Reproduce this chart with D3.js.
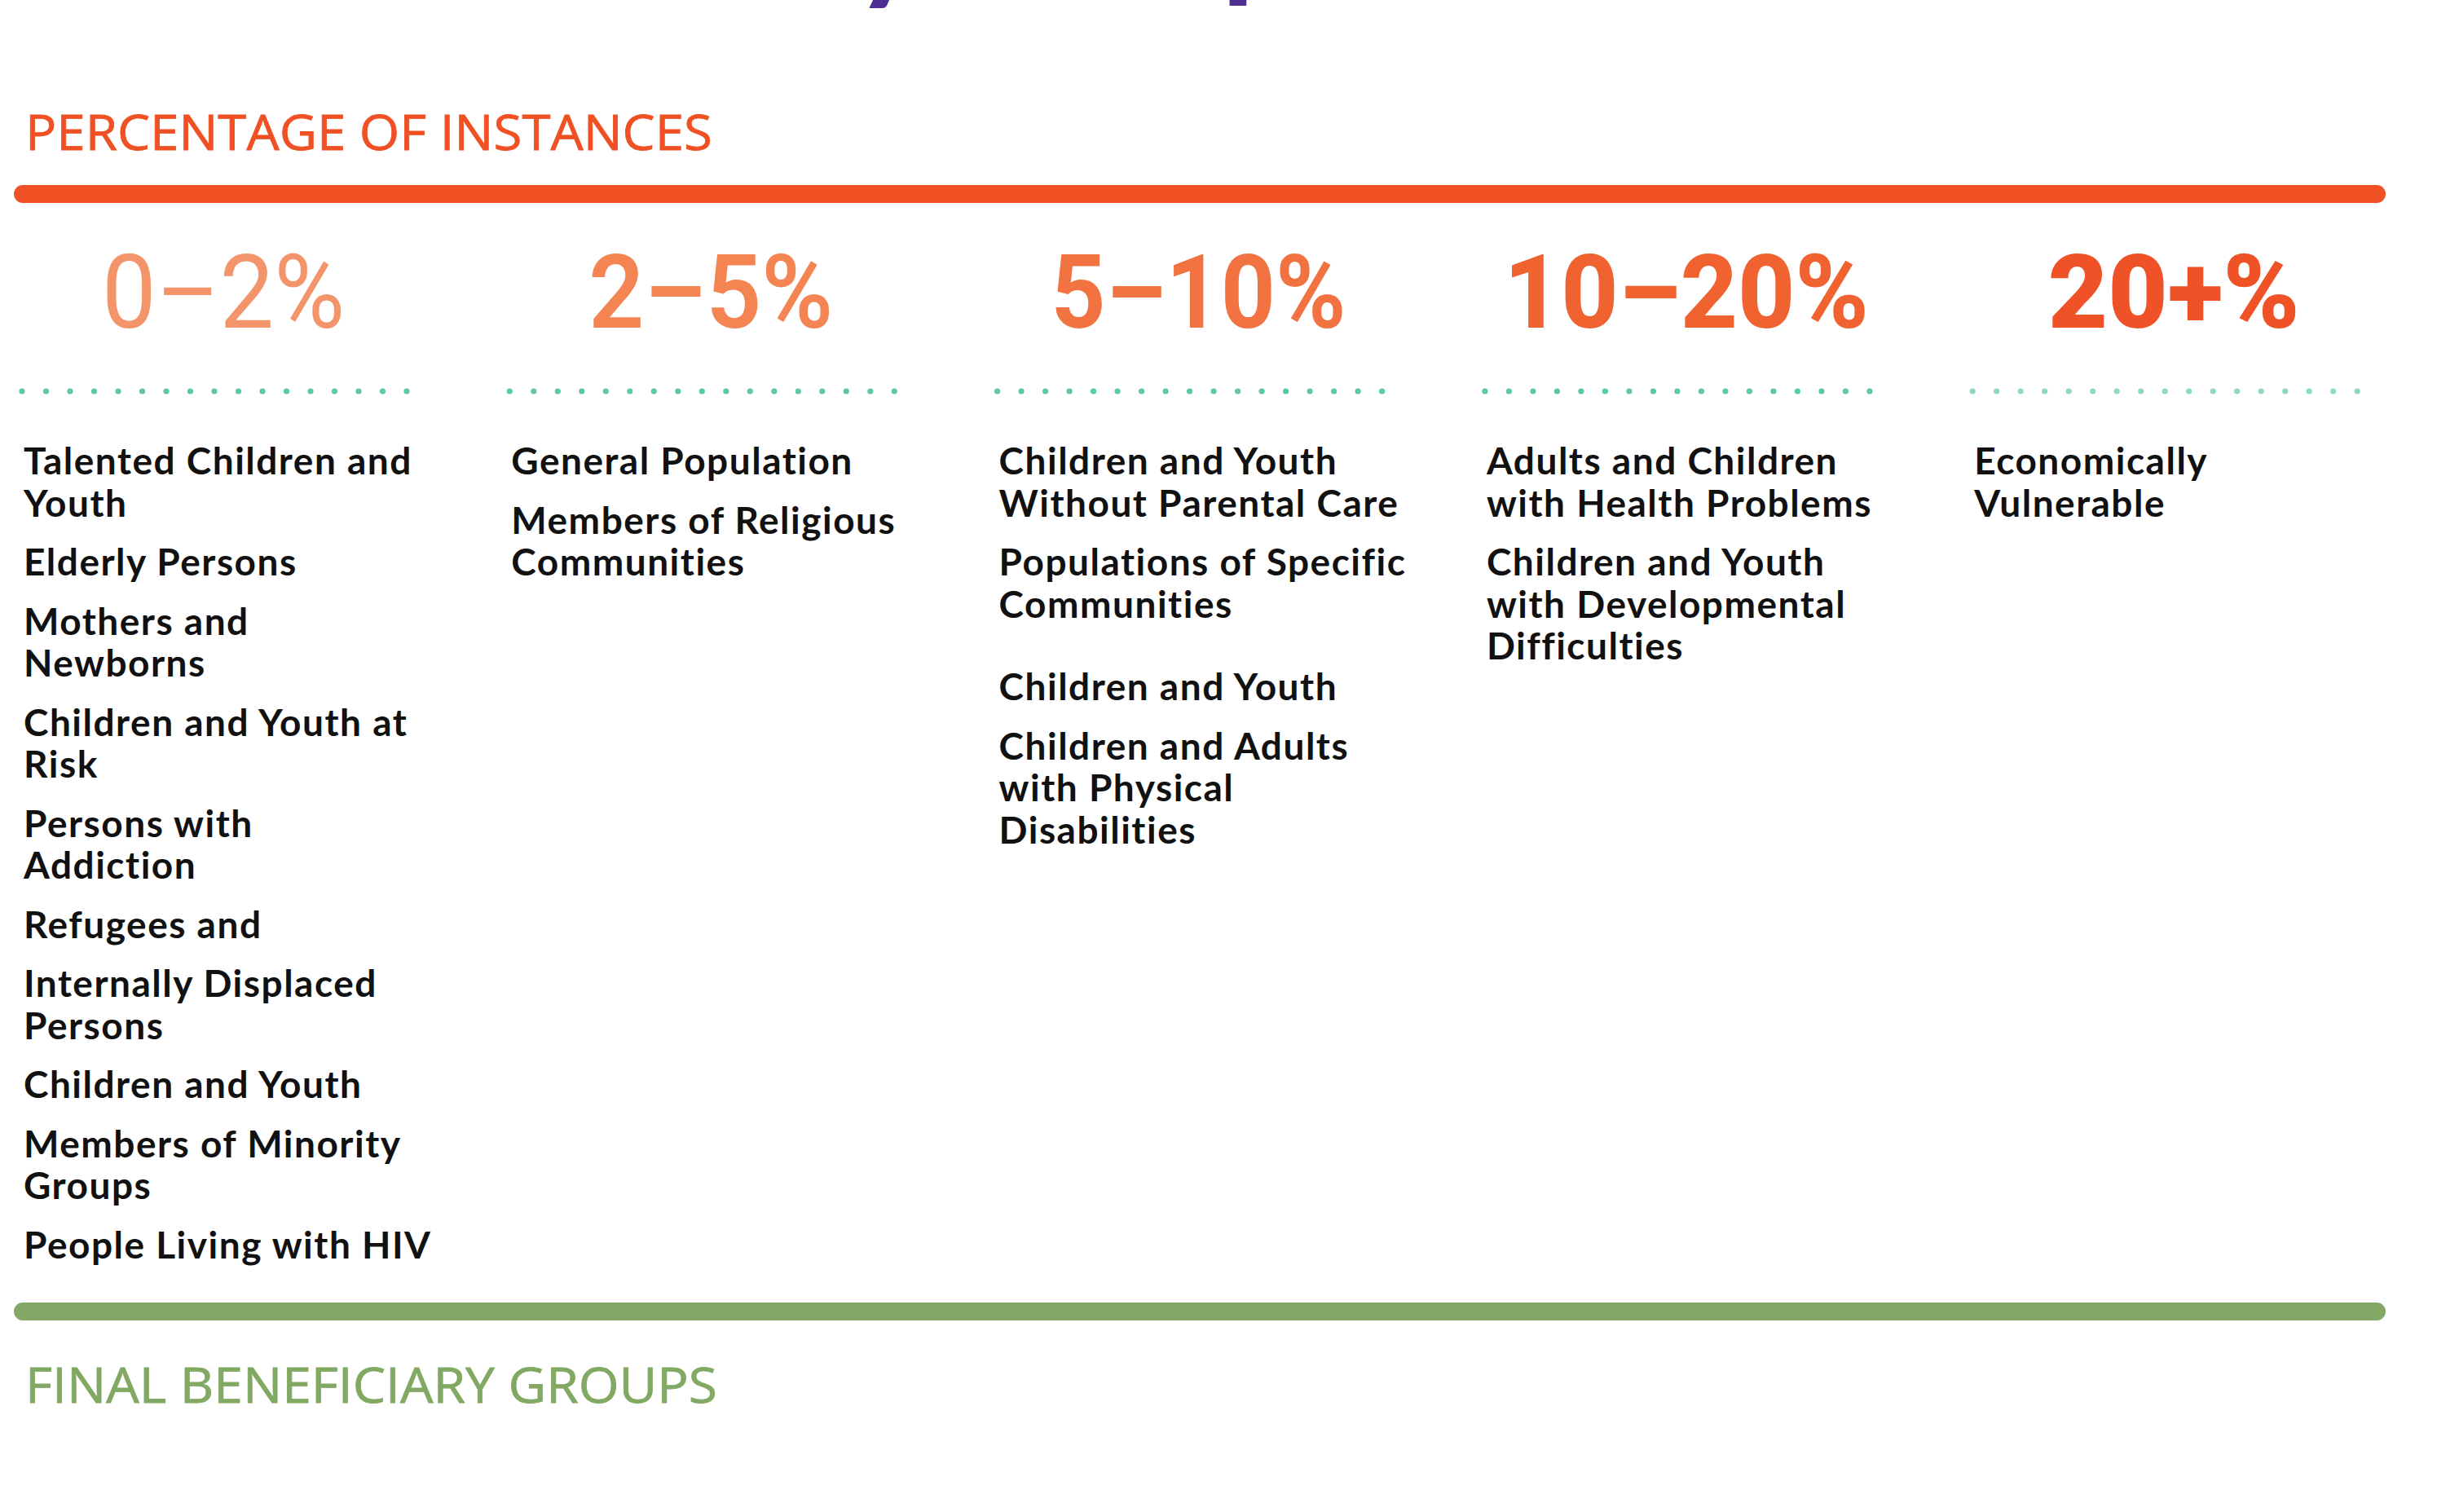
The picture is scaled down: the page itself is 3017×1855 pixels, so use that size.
<!DOCTYPE html>
<html>
<head>
<meta charset="utf-8">
<script src="https://cdn.jsdelivr.net/npm/d3@7"></script>
<style>
  html, body { margin: 0; padding: 0; background: #fff; }
  svg { display: block; }
</style>
</head>
<body>
<div class="chart"></div>
<script>
// percentage bands (column headers)
var ranges = ["0–2%", "2–5%", "5–10%", "10–20%", "20+%"];
var rangeColors = ["#f4946a", "#f48452", "#f27242", "#f06331", "#ef5226"];
var rangeWeights = [400, 600, 700, 800, 900];
var rangeWidths = [298, 300, 362, 448, 309];

// beneficiary groups in each band, one array per line of text
var groups0to2 = [
  ["Talented Children and", "Youth"],
  ["Elderly Persons"],
  ["Mothers and", "Newborns"],
  ["Children and Youth at", "Risk"],
  ["Persons with", "Addiction"],
  ["Refugees and"],
  ["Internally Displaced", "Persons"],
  ["Children and Youth"],
  ["Members of Minority", "Groups"],
  ["People Living with HIV"]
];
var groups2to5 = [
  ["General Population"],
  ["Members of Religious", "Communities"]
];
var groups5to10 = [
  ["Children and Youth", "Without Parental Care"],
  ["Populations of Specific", "Communities"],
  null, // blank spacer in the original
  ["Children and Youth"],
  ["Children and Adults", "with Physical", "Disabilities"]
];
var groups10to20 = [
  ["Adults and Children", "with Health Problems"],
  ["Children and Youth", "with Developmental", "Difficulties"]
];
var groups20plus = [
  ["Economically", "Vulnerable"]
];
var columns = [groups0to2, groups2to5, groups5to10, groups10to20, groups20plus];

var topTitle = "PERCENTAGE OF INSTANCES";
var bottomTitle = "FINAL BENEFICIARY GROUPS";

var width = 3017, height = 1855;
var orange = "#ef5124", green = "#83a865";
var dotsPerColumn = 17;

var svg = d3.select(".chart").append("svg")
  .attr("width", width)
  .attr("height", height);

// cut off title at the very top (only descenders show)
var purple = "#4f2d91";
svg.append("text")
  .attr("x", 1050).attr("y", -15)
  .attr("font-family", "Lato").attr("font-weight", 900)
  .attr("font-size", 150).attr("fill", purple)
  .text("y");
svg.append("text")
  .attr("x", 1500).attr("y", -18)
  .attr("font-family", "Lato").attr("font-weight", 900)
  .attr("font-size", 150).attr("fill", purple)
  .text("p");

var x = d3.scaleBand()
  .domain(ranges)
  .range([29, 29 + 598.3 * ranges.length]);

// section titles
svg.append("text")
  .attr("x", 31).attr("y", 184)
  .attr("font-family", "Open Sans")
  .attr("font-size", 60)
  .attr("fill", orange)
  .attr("stroke", orange)
  .attr("stroke-width", 0.8)
  .attr("textLength", 843)
  .attr("lengthAdjust", "spacingAndGlyphs")
  .text(topTitle);

svg.append("text")
  .attr("x", 31).attr("y", 1721)
  .attr("font-family", "Open Sans")
  .attr("font-size", 60)
  .attr("fill", "#82a963")
  .attr("stroke", "#82a963")
  .attr("stroke-width", 0.8)
  .attr("textLength", 849)
  .attr("lengthAdjust", "spacingAndGlyphs")
  .text(bottomTitle);

// thick rules
svg.append("rect")
  .attr("x", 17).attr("y", 227)
  .attr("width", 2910).attr("height", 22)
  .attr("rx", 11)
  .attr("fill", orange);

svg.append("rect")
  .attr("x", 17).attr("y", 1598)
  .attr("width", 2910).attr("height", 22)
  .attr("rx", 11)
  .attr("fill", green);

// column headers
svg.selectAll(".range")
  .data(ranges)
  .enter()
  .append("text")
  .attr("class", "range")
  .attr("x", function(d, i) { return x(d) + 245 - rangeWidths[i] / 2; })
  .attr("y", 402)
  .attr("font-family", "Roboto")
  .attr("font-size", 127)
  .attr("font-weight", function(d, i) { return rangeWeights[i]; })
  .attr("fill", function(d, i) { return rangeColors[i]; })
  .attr("textLength", function(d, i) { return rangeWidths[i]; })
  .attr("lengthAdjust", "spacingAndGlyphs")
  .text(function(d) { return d; });

// dotted separators
var dotX = d3.scalePoint().domain(d3.range(dotsPerColumn)).range([-2, 470]);
var dotRows = svg.selectAll(".dots")
  .data(ranges)
  .enter()
  .append("g")
  .attr("class", "dots")
  .attr("transform", function(d) { return "translate(" + x(d) + ",480)"; });

dotRows.selectAll("circle")
  .data(function(d, i) {
    return d3.range(dotsPerColumn).map(function(k) { return { k: k, col: i }; });
  })
  .enter()
  .append("circle")
  .attr("cx", function(d) { return dotX(d.k); })
  .attr("cy", 0)
  .attr("r", 3.6)
  .attr("fill", function(d) { return d.col === 4 ? "#8fd9c4" : "#5dc8a7"; });

// group labels
var lineHeight = 51.5;
var itemGap = 21;
var spacerHeight = 29;
var firstBaseline = 582;

columns.forEach(function(items, ci) {
  var g = svg.append("g")
    .attr("transform", "translate(" + x(ranges[ci]) + ",0)");
  var y = firstBaseline;
  items.forEach(function(lines) {
    if (lines === null) { y += spacerHeight; return; }
    var t = g.append("text")
      .attr("font-family", "Lato")
      .attr("font-weight", 700)
      .attr("font-size", 46)
      .attr("letter-spacing", 1.5)
      .attr("fill", "#111");
    lines.forEach(function(line, li) {
      t.append("tspan")
        .attr("x", 0)
        .attr("y", y + li * lineHeight)
        .text(line);
    });
    y += lines.length * lineHeight + itemGap;
  });
});
</script>
</body>
</html>
